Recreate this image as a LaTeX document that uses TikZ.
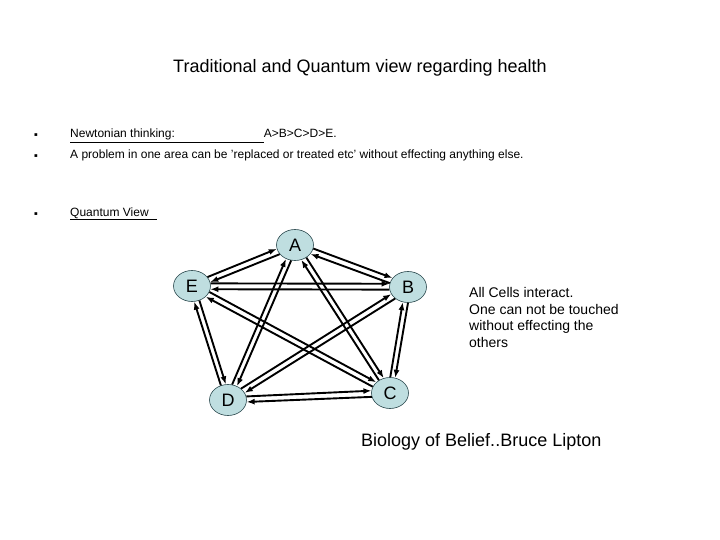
\documentclass[tikz,border=0pt]{standalone}
\usepackage{fontspec}
\setmainfont{Liberation Sans}
\newfontfamily\symfont{DejaVu Sans}
\usetikzlibrary{arrows.meta,calc,shapes.geometric}
\definecolor{nodefill}{RGB}{191,222,224}
\definecolor{nodeline}{RGB}{40,70,75}
\tikzset{
  ell/.style={ellipse, draw=nodeline, line width=0.6pt, fill=nodefill, minimum width=37pt, minimum height=31pt, inner sep=0pt, font=\fontsize{18}{18}\selectfont},
  arr/.style={line width=1.9pt, -{Latex[length=8pt,width=6pt]}},
  txt/.style={inner sep=0pt, font=\fontsize{12}{14}\selectfont},
  bul/.style={inner sep=0pt, anchor=base, font=\symfont\fontsize{5.5}{7}\selectfont},
}
\begin{document}
\begin{tikzpicture}[x=1pt,y=-1pt]
\useasboundingbox (0,0) rectangle (720,540);
\node[inner sep=0pt, anchor=base, font=\fontsize{18}{18}\selectfont] (title) at (360,73) {Traditional and Quantum view regarding health};
\node[bul] (b1) at (36,137) {▪};
\node[bul] (b2) at (36,158) {▪};
\node[bul] (b3) at (36,215) {▪};
\node[txt, anchor=base west] (l1) at (70,138) {\underline{Newtonian thinking:\hspace{89pt}}A>B>C>D>E.};
\node[txt, anchor=base west] (l2) at (70,159) {A problem in one area can be 'replaced or treated etc' without effecting anything else.};
\node[txt, anchor=base west] (l3) at (70,216) {\underline{Quantum View\hspace{8pt}}};
\node[ell] (A) at (295,245) {A};
\node[ell] (E) at (192,286) {E};
\node[ell] (B) at (408,287) {B};
\node[ell] (C) at (390,393) {C};
\node[ell] (D) at (228,400) {D};
\foreach \a/\b in {A/B,A/C,A/D,A/E,B/C,B/D,B/E,C/D,C/E,D/E}{
  \draw[arr] let \p1=($(\b.center)-(\a.center)$), \n1={atan2(\y1,\x1)}, \n2={\n1+9}, \n3={\n1+171} in (\a.\n2) -- (\b.\n3);
  \draw[arr] let \p1=($(\a.center)-(\b.center)$), \n1={atan2(\y1,\x1)}, \n2={\n1+9}, \n3={\n1+171} in (\b.\n2) -- (\a.\n3);
}
\node[inner sep=0pt, anchor=north west, align=left, font=\fontsize{14}{16.7}\selectfont] (note) at (469,287) {All Cells interact.\\One can not be touched\\without effecting the\\others};
\node[inner sep=0pt, anchor=base west, font=\fontsize{18}{20}\selectfont] (src) at (361,446) {Biology of Belief..Bruce Lipton};
\end{tikzpicture}
\end{document}
